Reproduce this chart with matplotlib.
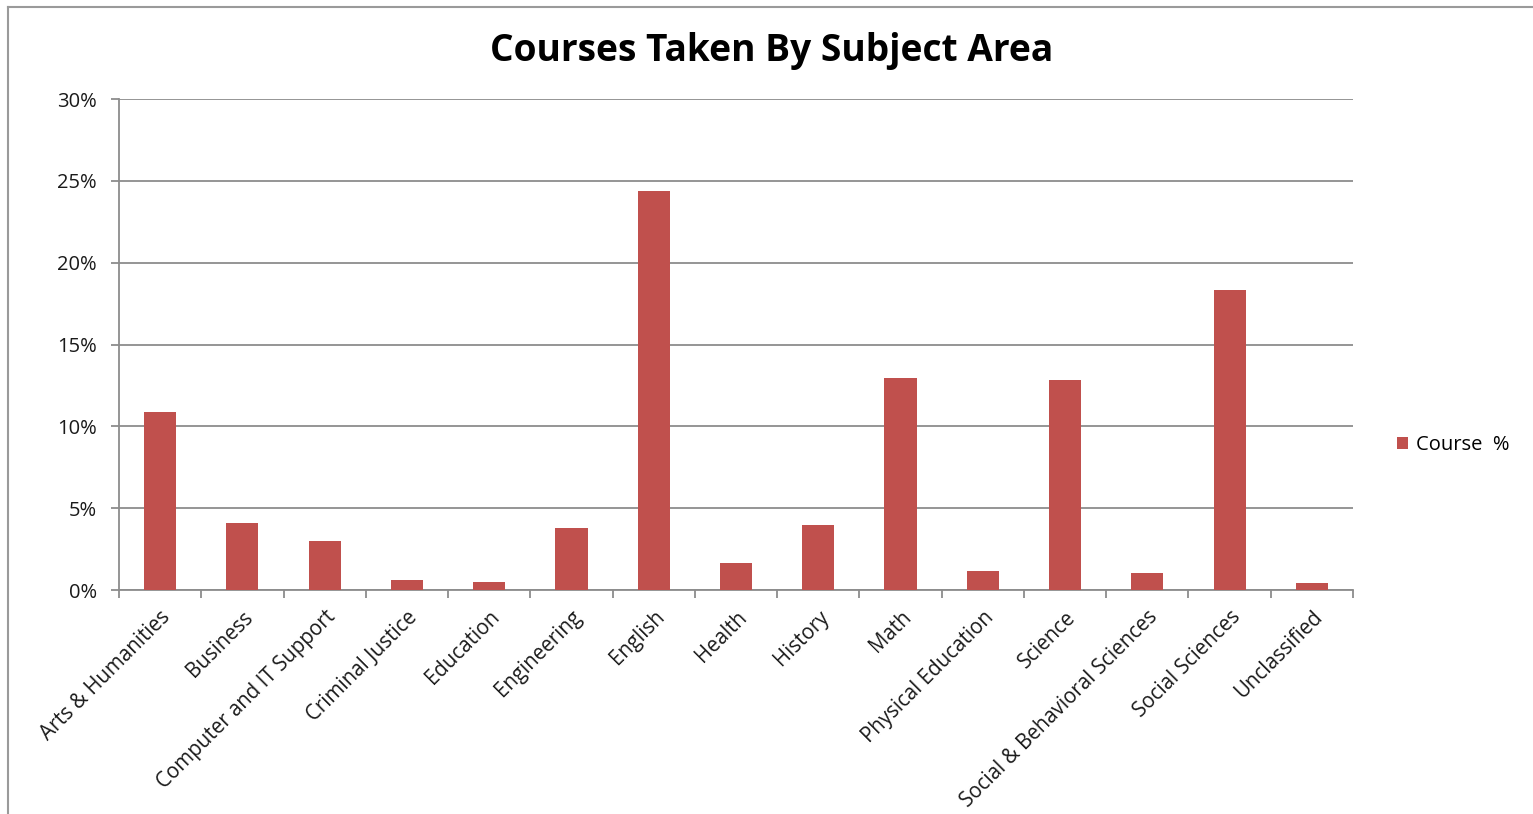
import matplotlib
matplotlib.use("Agg")
import matplotlib.pyplot as plt
from matplotlib.lines import Line2D
from matplotlib.ticker import FuncFormatter, FixedLocator
import numpy as np

categories = ["Arts & Humanities", "Business", "Computer and IT Support", "Criminal Justice",
              "Education", "Engineering", "English", "Health", "History", "Math",
              "Physical Education", "Science", "Social & Behavioral Sciences",
              "Social Sciences", "Unclassified"]
course_pct = [10.9, 4.1, 3.0, 0.6, 0.5, 3.8, 24.4, 1.65, 4.0, 12.95, 1.15, 12.85, 1.05, 18.35, 0.4]
series_name = "Course  %"
yticks = [0, 5, 10, 15, 20, 25, 30]

plt.rcParams['font.family'] = ['Open Sans', 'DejaVu Sans']

W, H = 1533, 814
fig = plt.figure(figsize=(W / 100, H / 100), dpi=100)
ax = fig.add_axes([119 / W, 1 - 590 / H, (1353 - 119) / W, (590 - 99) / H])

bar_color = "#C0504D"
grid_color = "#8C8C8C"
x = np.arange(len(categories))
ax.bar(x, course_pct, width=0.39, color=bar_color, label=series_name, zorder=3)

ax.set_xlim(-0.5, len(categories) - 0.5)
ax.set_ylim(0, 30)
ax.yaxis.set_major_locator(FixedLocator(yticks))
ax.yaxis.set_major_formatter(FuncFormatter(lambda v, p: f"{int(v)}%"))
ax.grid(axis='y', color=grid_color, linewidth=1.3, zorder=0)

for s in ['top', 'right']:
    ax.spines[s].set_visible(False)
for s in ['left', 'bottom']:
    ax.spines[s].set_color(grid_color)
    ax.spines[s].set_linewidth(1.3)

# category ticks at boundaries
ax.set_xticks(np.arange(len(categories) + 1) - 0.5)
ax.set_xticklabels([])
ax.set_xticks(x, minor=True)
ax.set_xticklabels(categories, minor=True, rotation=45, ha='right',
                   rotation_mode='anchor', fontsize=14.8, color='#1a1a1a')
ax.tick_params(axis='x', which='major', length=6, width=1.3, color=grid_color, direction='out')
ax.tick_params(axis='x', which='minor', length=0, pad=12)
ax.tick_params(axis='y', length=6, width=1.3, color=grid_color, labelsize=14.5,
               labelcolor='#1a1a1a', pad=10)

fig.text(772 / W, 1 - 51 / H, "Courses Taken By Subject Area", ha='center', va='center',
         fontsize=26.7, fontweight='bold', color='black')

leg = ax.legend(loc='center left', bbox_to_anchor=((1387 - 119) / (1353 - 119),
                (590 - 445) / (590 - 99)), frameon=False, fontsize=14.5,
                handlelength=0.55, handleheight=0.55, handletextpad=0.4, borderpad=0)

# screenshot frame lines
fig.add_artist(Line2D([8 / W, 8 / W], [0, 1 - 7 / H], transform=fig.transFigure,
                      color='#9a9a9a', linewidth=1.5))
fig.add_artist(Line2D([8 / W, 1], [1 - 7 / H, 1 - 7 / H], transform=fig.transFigure,
                      color='#9a9a9a', linewidth=1.5))

fig.savefig("out.png", dpi=100, facecolor='white')
